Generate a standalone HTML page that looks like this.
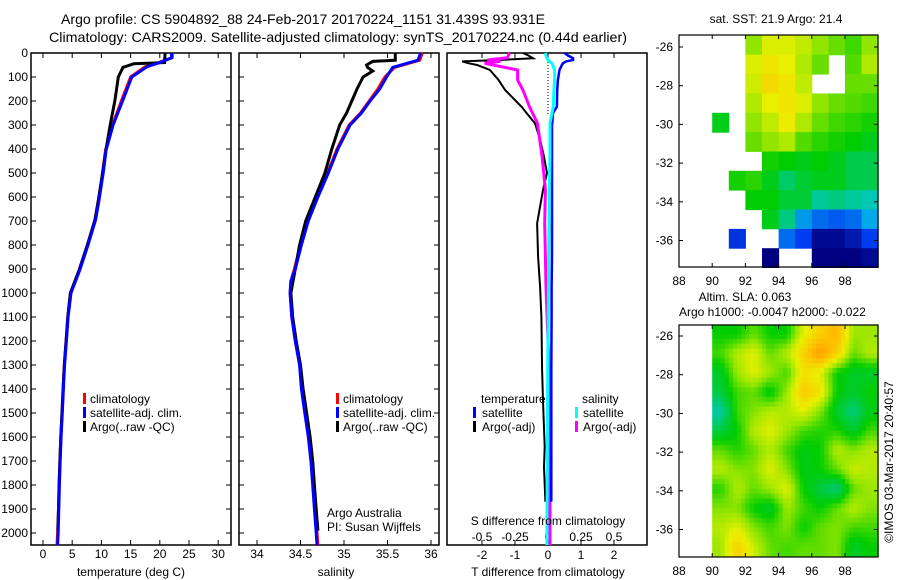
<!DOCTYPE html>
<html><head><meta charset="utf-8"><style>
html,body{margin:0;padding:0;background:#fff;}
svg{display:block;font-family:"Liberation Sans",sans-serif;}
</style></head><body>
<svg id="fig" width="900" height="580" viewBox="0 0 900 580" xmlns="http://www.w3.org/2000/svg">
<rect width="900" height="580" fill="#fff"/>
<text x="61" y="24" font-size="14" textLength="484" lengthAdjust="spacingAndGlyphs">Argo profile: CS 5904892_88 24-Feb-2017 20170224_1151 31.439S 93.931E</text>
<text x="49" y="42" font-size="14" textLength="578" lengthAdjust="spacingAndGlyphs">Climatology: CARS2009. Satellite-adjusted climatology: synTS_20170224.nc (0.44d earlier)</text>
<g id="layer"></g>
</svg>
<script>
// ---------- data ----------
const depthT = [0,20,40,57,100,195,300,404,500,611,695,800,904,1000,1100,1200,1300,1400,1500,1600,1700,1800,1900,2000,2050];
const tempSat = [22.0,22.0,20.0,17.8,15.2,13.7,12.0,10.8,10.3,9.6,9.0,7.7,6.3,4.8,4.3,4.0,3.7,3.5,3.3,3.1,2.95,2.8,2.7,2.6,2.5];
const tempClim = [22.2,22.1,19.8,17.5,15.0,13.5,11.9,10.7,10.2,9.5,8.9,7.6,6.2,4.7,4.25,3.95,3.65,3.45,3.25,3.05,2.9,2.75,2.65,2.5,2.4];
const depthArgo = [0,40,45,60,100,150,200,300,400,500,611,695,800,904,1000,1100,1200,1300,1400,1500,1600,1700,1800,1900,1990];
const tempArgo = [20.9,20.8,15.5,13.7,12.9,12.6,12.3,11.5,10.8,10.2,9.5,8.9,7.6,6.2,4.7,4.25,3.95,3.65,3.45,3.25,3.05,2.9,2.75,2.65,2.55];
const depthS = [0,30,60,100,150,200,250,300,400,500,600,700,800,900,950,1000,1100,1200,1300,1400,1500,1600,1700,1800,1900,2000,2050];
const salSat = [35.88,35.85,35.56,35.49,35.41,35.30,35.20,35.07,34.93,34.82,34.70,34.59,34.51,34.44,34.39,34.38,34.40,34.44,34.49,34.51,34.55,34.59,34.62,34.64,34.66,34.68,34.69];
const salClim = [35.90,35.87,35.58,35.47,35.39,35.29,35.19,35.06,34.92,34.81,34.69,34.58,34.50,34.43,34.39,34.38,34.40,34.44,34.49,34.52,34.56,34.60,34.63,34.65,34.67,34.69,34.70];
const depthSA = [0,30,35,50,60,75,100,150,200,250,300,400,500,600,700,800,900,1000,1100,1200,1300,1400,1500,1600,1700,1800,1900,1990];
const salArgo = [35.59,35.59,35.33,35.26,35.27,35.33,35.22,35.15,35.09,35.03,34.95,34.86,34.78,34.67,34.56,34.49,34.44,34.39,34.41,34.45,34.50,34.53,34.57,34.61,34.64,34.66,34.68,34.70];
const depthD = [0,10,22,29,35,43,50,71,112,154,224,250,292,300,361,432,500,571,710,849,975,1100,1320,1450,1640,1725,1870];
const dTsat = [0.5,0.6,0.76,0.76,0.55,0.45,0.42,0.35,0.3,0.28,0.27,0.15,0.13,0.12,0.12,0.12,0.12,0.12,0.12,0.12,0.11,0.11,0.1,0.1,0.1,0.1,0.1];
const dTargo = [-0.76,-0.6,-0.45,-1.5,-2.6,-2.4,-2.15,-1.76,-1.5,-1.3,-0.8,-0.65,-0.4,-0.38,-0.24,-0.12,-0.03,-0.15,-0.33,-0.3,-0.24,-0.2,-0.18,-0.15,-0.1,-0.12,-0.08];
const depthD2 = [0,20,29,35,43,71,112,154,224,292,432,571,710,849,975,1200,1400,1700,2000,2050];
const dSsat = [-0.02,-0.01,0,0.01,0.03,0.05,0.05,0.045,0.04,0.015,0.015,0.01,0.008,0.005,0.003,0,-0.003,-0.005,-0.008,-0.008];
const dSargo = [-0.29,-0.31,-0.46,-0.36,-0.48,-0.23,-0.23,-0.19,-0.14,-0.08,-0.045,-0.02,-0.025,-0.02,-0.015,0.0,0.015,0.015,0.015,0.015];
const depthTicks = [0,100,200,300,400,500,600,700,800,900,1000,1100,1200,1300,1400,1500,1600,1700,1800,1900,2000];
const tempTicks = [0,5,10,15,20,25,30];
const salTicks = [34,34.5,35,35.5,36];
const salTickLabels = ["34","34.5","35","35.5","36"];
const dTTicks = [-2,-1,0,1,2];
const dSTicks = [-0.5,-0.25,0,0.25,0.5];
const dSTickLabels = ["-0.5","-0.25","0","0.25","0.5"];
const lonTicks = [88,90,92,94,96,98];
const latTicks = [-26,-28,-30,-32,-34,-36];
const sstLat0 = -25.4;
const sstLon0 = 88;
const sst = [
[null,null,null,null,21.0,21.5,21.5,21.3,21.0,20.8,20.6,21.0],
[null,null,null,null,21.5,21.8,21.6,21.2,20.8,null,20.7,21.2],
[null,null,null,null,21.4,22.0,21.8,21.3,null,null,20.8,20.8],
[null,null,null,null,21.2,21.6,21.8,21.5,21.0,20.8,20.7,20.6],
[null,null,20.2,null,21.0,21.3,21.7,21.2,20.8,20.6,20.5,20.4],
[null,null,null,null,20.8,21.0,21.2,20.7,20.5,20.4,20.3,20.2],
[null,null,null,null,null,20.4,20.3,20.2,20.3,20.2,20.0,20.0],
[null,null,null,20.4,20.5,20.2,19.9,20.1,20.2,20.2,20.0,20.0],
[null,null,null,null,20.3,20.3,20.1,20.1,19.7,19.8,19.7,19.6],
[null,null,null,null,null,20.2,19.8,19.1,18.8,18.7,18.8,19.2],
[null,null,null,18.3,null,null,18.8,18.5,17.5,17.5,17.8,18.5],
[null,null,null,null,null,17.3,null,null,17.3,17.3,17.3,17.5]];
const slaLon0 = 90;
const sla = [
[0,0,0.03,0,0,0.08,0.12,0.15,0.05,0.05],
[0.02,0.06,0.08,0.03,0.06,0.12,0.18,0.12,0.03,0.06],
[-0.02,0.05,0.08,0.05,0.02,0.10,0.08,0,-0.02,-0.02],
[-0.03,0.02,0.03,-0.01,0.05,0.13,0.1,0,-0.02,0],
[-0.08,0.02,0.04,0.06,0.06,0.08,0.04,-0.02,-0.06,-0.01],
[-0.03,0.0,0.06,0.08,0.05,0.02,0.01,0.01,-0.02,0.02],
[0.03,0.01,0.03,0.06,0.02,-0.01,0.0,0.06,0.04,0.06],
[0.06,0.04,0.04,0.08,0.04,-0.01,0,0.03,0.07,0.06],
[0.01,0.06,0.03,0.05,0.08,0.0,-0.03,-0.06,0.03,0.05],
[0.04,0.04,0,-0.02,0.05,0.02,0,0.03,0.06,0.04],
[0.06,0.08,0.04,0.02,0.04,0,0.03,0.04,0.02,0.02],
[0.05,0.12,0.07,0.03,0.02,0.03,0.03,0.04,-0.02,0]];

// ---------- helpers ----------
const NS="http://www.w3.org/2000/svg";
const L=document.getElementById('layer');
function mk(tag,attrs,parent){const e=document.createElementNS(NS,tag);for(const k in attrs)e.setAttribute(k,attrs[k]);(parent||L).appendChild(e);return e;}
function txt(x,y,s,size,anchor,parent){const t=mk('text',{x:x,y:y,'font-size':size||12,'text-anchor':anchor||'start'},parent);t.textContent=s;return t;}
const yD=d=>53+0.24*d;
const xT=t=>43+5.84*t;
const xS=s=>257+87*(s-34);
const xdT=v=>548+33*v;
const xdS=v=>548+132*v;
function poly(xs,ys,fx,color,w,name){
  const pts=xs.map((v,i)=>fx(v).toFixed(1)+','+yD(ys[i]).toFixed(1)).join(' ');
  const p=mk('polyline',{points:pts,fill:'none',stroke:color,'stroke-width':w,'stroke-linejoin':'miter'});
  
  
  return p;
}
function frame(x0,x1,name){
  const r=mk('rect',{x:x0,y:53,width:x1-x0,height:492,fill:'none',stroke:'#000','stroke-width':1.5});
  
  
  depthTicks.forEach(d=>{const y=yD(d);mk('line',{x1:x0,y1:y,x2:x0+5,y2:y,stroke:'#000'});mk('line',{x1:x1,y1:y,x2:x1-5,y2:y,stroke:'#000'});});
}
function xticks(vals,labels,fx,x0,x1,ly,name){
  vals.forEach((v,i)=>{const x=fx(v);mk('line',{x1:x,y1:53,x2:x,y2:58,stroke:'#000'});mk('line',{x1:x,y1:545,x2:x,y2:540,stroke:'#000'});
    const t=txt(x,ly,labels[i],12,'middle');
    
    });
}
function legendMark(x,y,color){mk('rect',{x:x,y:y-10,width:3,height:11,fill:color});}

// ---------- panel 1 ----------
frame(31,231,'temperature-panel');
depthTicks.forEach(d=>{const t=txt(28,yD(d)+4,String(d),12,'end');
  
  });
xticks(tempTicks,tempTicks.map(String),xT,31,231,558,'temperature-tick-label');
poly(tempClim,depthT,xT,'#ff0000',3,'temperature-climatology-line');
poly(tempArgo,depthArgo,xT,'#000000',3,'temperature-argo-line');
poly(tempSat,depthT,xT,'#0000ff',3,'temperature-satellite-line');
txt(131,576,'temperature (deg C)',12,'middle');
legendMark(83,403,'#ff0000');txt(90,403,'climatology');
legendMark(83,417,'#0000ff');txt(90,417,'satellite-adj. clim.');
legendMark(83,431,'#000');txt(90,431,'Argo(..raw -QC)');

// ---------- panel 2 ----------
frame(239,439,'salinity-panel');
xticks(salTicks,salTickLabels,xS,239,439,558,'salinity-tick-label');
poly(salClim,depthS,xS,'#ff0000',3,'salinity-climatology-line');
poly(salArgo,depthSA,xS,'#000000',3,'salinity-argo-line');
poly(salSat,depthS,xS,'#0000ff',3,'salinity-satellite-line');
txt(336,576,'salinity',12,'middle');
legendMark(336,403,'#ff0000');txt(343,403,'climatology');
legendMark(336,417,'#0000ff');txt(343,417,'satellite-adj. clim.');
legendMark(336,431,'#000');txt(343,431,'Argo(..raw -QC)');
txt(327,517,'Argo Australia');
txt(327,531,'PI: Susan Wijffels');

// ---------- panel 3 ----------
{
 const r=mk('rect',{x:447,y:53,width:200,height:492,fill:'none',stroke:'#000','stroke-width':1.5});
 
 
 dTTicks.forEach(v=>{const x=xdT(v);mk('line',{x1:x,y1:53,x2:x,y2:58,stroke:'#000'});mk('line',{x1:x,y1:545,x2:x,y2:540,stroke:'#000'});
   const t=txt(x,559,String(v),12,'middle');
   
   });
 dSTicks.forEach((v,i)=>{const t=txt(xdS(v),541,dSTickLabels[i],12,'middle');
   
   });
 mk('line',{x1:548,y1:53,x2:548,y2:yD(260),stroke:'#000','stroke-dasharray':'1,2'});
 poly(dTargo,depthD,xdT,'#000000',2,'dt-argo-line');
 poly(dSargo,depthD2,xdS,'#ff00ff',3,'ds-argo-line');
 poly(dTsat,depthD,xdT,'#0000ff',2.5,'dt-satellite-line');
 poly(dSsat,depthD2,xdS,'#00ffff',3,'ds-satellite-line');
 txt(548,525,'S difference from climatology',12,'middle');
 txt(548,576,'T difference from climatology',12,'middle');
 txt(481,403,'temperature');
 legendMark(473,417,'#0000ff');txt(482,417,'satellite');
 legendMark(473,431,'#000');txt(482,431,'Argo(-adj)');
 txt(582,403,'salinity');
 legendMark(575,417,'#00ffff');txt(583,417,'satellite');
 legendMark(575,431,'#ff00ff');txt(583,431,'Argo(-adj)');
}

// ---------- maps ----------
const cmapStops=[[0,[0,0,128]],[0.2,[0,60,240]],[0.35,[0,200,230]],[0.5,[0,205,0]],[0.62,[150,230,0]],[0.72,[235,240,0]],[0.88,[255,185,0]],[1,[255,150,0]]];
function cmap(t){t=Math.max(0,Math.min(1,t));
  for(let k=1;k<cmapStops.length;k++){const [t1,c1]=cmapStops[k];if(t<=t1){const [t0,c0]=cmapStops[k-1];const a=(t-t0)/(t1-t0);
    return 'rgb('+c0.map((c,i)=>Math.round(c+(c1[i]-c)*a)).join(',')+')';}}
  return 'rgb(255,150,0)';}
const MX0=679,MX1=878;
const lonX=lon=>679+(lon-88)*16.6;
function mapAxes(top,bottom,lat26y,name,xlabY){
  const latY=lat=>lat26y+(-26-lat)*19.35;
  const r=mk('rect',{x:MX0,y:top,width:MX1-MX0,height:bottom-top,fill:'none',stroke:'#000','stroke-width':1.2});
  
  
  latTicks.forEach(l=>{const y=latY(l);mk('line',{x1:MX0,y1:y,x2:MX0+4,y2:y,stroke:'#000'});mk('line',{x1:MX1,y1:y,x2:MX1-4,y2:y,stroke:'#000'});
    const t=txt(673,y+4,String(l),12,'end');
    
    });
  lonTicks.forEach(l=>{const x=lonX(l);mk('line',{x1:x,y1:top,x2:x,y2:top+4,stroke:'#000'});mk('line',{x1:x,y1:bottom,x2:x,y2:bottom-4,stroke:'#000'});
    const t=txt(x,xlabY,String(l),12,'middle');
    
    });
  return latY;
}
{
 const latY=lat=>47+(-26-lat)*19.35;
 const g=mk('g',{});
 
 
 sst.forEach((row,i)=>row.forEach((v,j)=>{ if(v===null)return;
   const la=sstLat0-i, lo=sstLon0+j;
   const x=lonX(lo), y=latY(la), w=lonX(lo+1)-x, h=latY(la-1)-y;
   const c=mk('rect',{x:x.toFixed(1),y:y.toFixed(1),width:(w+0.5).toFixed(1),height:(h+0.5).toFixed(1),fill:cmap((v-17.3)/6)},g);
   
   
 }));
 mapAxes(35,267,47,'sst-map-axes',285);
 txt(776,23,'sat. SST: 21.9 Argo: 21.4',12,'middle');
 txt(745,301,'Altim. SLA: 0.063',12,'middle');
 txt(679,316,'Argo h1000: -0.0047 h2000: -0.022',12,'start');
}
{
 const latY=lat=>336+(-26-lat)*19.35;
 const g=mk('g',{});
 
 
 const R=sla.length, C=sla[0].length, sub=4;
 const val=(fi,fj)=>{fi=Math.max(0,Math.min(R-1,fi));fj=Math.max(0,Math.min(C-1,fj));
   const i0=Math.floor(fi),j0=Math.floor(fj),i1=Math.min(R-1,i0+1),j1=Math.min(C-1,j0+1),a=fi-i0,b=fj-j0;
   return sla[i0][j0]*(1-a)*(1-b)+sla[i1][j0]*a*(1-b)+sla[i0][j1]*(1-a)*b+sla[i1][j1]*a*b;};
 const slaT=v=>v>=0?0.5+v*2.6:0.5+v*1.4;
 for(let i=0;i<R*sub;i++)for(let j=0;j<C*sub;j++){
   const v=val((i+0.5)/sub-0.5,(j+0.5)/sub-0.5);
   const la=-25.4-i/sub, lo=slaLon0+j/sub;
   const x=lonX(lo), y=latY(la), w=lonX(lo+1/sub)-x, h=latY(la-1/sub)-y;
   const c=mk('rect',{x:x.toFixed(1),y:y.toFixed(1),width:(w+0.5).toFixed(1),height:(h+0.5).toFixed(1),fill:cmap(slaT(v))},g);
   
   
 }
 mapAxes(325,557,336,'sla-map-axes',575);
 const t=txt(0,0,'©IMOS 03-Mar-2017 20:40:57',12,'middle');
 t.setAttribute('transform','translate(893,462) rotate(-90)');
 
 
}
</script>
</body></html>
